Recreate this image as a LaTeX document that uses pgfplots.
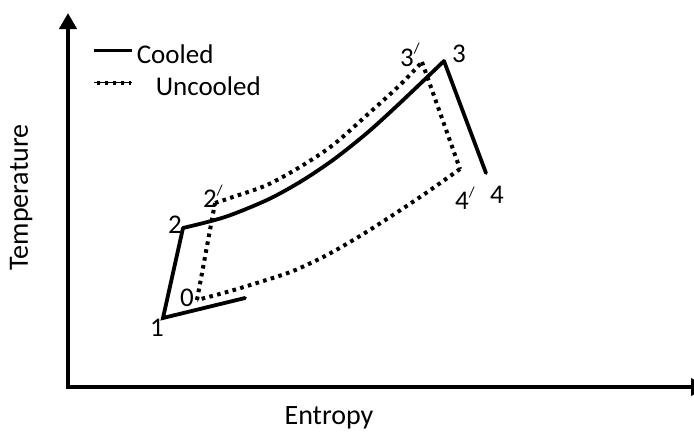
\documentclass[border=0pt]{standalone}
\usepackage{fontspec}
\setmainfont{Carlito}
\usepackage{pgfplots}
\pgfplotsset{compat=1.18}
\usetikzlibrary{arrows.meta}
\newcommand\lbl{\fontsize{27}{30}\selectfont}
\newcommand\pr{\raisebox{12pt}{\fontsize{15}{15}\selectfont /}}
\begin{document}
\begin{tikzpicture}
\useasboundingbox (-68pt,-45pt) rectangle (626pt,387pt);
\begin{axis}[
  scale only axis, width=639pt, height=374pt,
  xmin=0, xmax=639, ymin=0, ymax=374,
  enlargelimits=false,
  axis lines=left,
  xtick=\empty, ytick=\empty,
  axis line style={line width=4pt, line cap=rect},
  x axis line style={-{Triangle[length=16pt,width=17pt]}},
  y axis line style={-{Triangle[length=16pt,width=17pt]}},
  clip=false,
  legend cell align=left,
  legend style={draw=none, fill=none, inner sep=0pt, outer sep=0pt,
    at={(axis cs:24,349)}, anchor=north west,
    row sep=7pt, column sep=3pt,
    nodes={inner sep=0pt, text height=25pt, text depth=0pt, font=\lbl}},
  solidline/.style={black, line width=3.8pt, line join=miter, line cap=round},
  dotline/.style={black, line width=4pt, dash pattern=on 3.6pt off 4.4pt},
]
% legend
\addlegendimage{legend image code/.code={\path (0pt,0pt) -- (38pt,0pt); \draw[black, line width=3.8pt] (0pt,0pt) -- (38pt,0pt);}}
\addlegendentry{Cooled}
\addlegendimage{legend image code/.code={\path (0pt,0pt) -- (38pt,0pt); \draw[black, line width=4pt, dash pattern=on 3.6pt off 4.4pt] (3pt,0pt) -- (37pt,0pt);}}
\addlegendentry{\hspace*{19pt}Uncooled}

% Cooled cycle
\addplot[solidline, forget plot] coordinates {(418,214) (376,326)};
\addplot[solidline, smooth, forget plot] coordinates {
  (376,326) (332,284) (299,254) (265,227) (232,205) (199,187) (157,170) (115,159)};
\addplot[solidline, forget plot] coordinates {(115,159) (95,69) (177,89)};

% Uncooled cycle
\addplot[dotline, forget plot] coordinates {(129,87) (147,184)};
\addplot[dotline, smooth, forget plot] coordinates {
  (147,184) (165,190) (199,202) (232,220) (265,242) (299,272) (332,302) (354,325)};
\addplot[dotline, forget plot] coordinates {(354,325) (392,218)};
\addplot[dotline, smooth, forget plot] coordinates {
  (392,218) (358,194) (325,172) (292,151) (259,132) (225,116) (192,105) (159,95) (129,87)};

% point labels
\node[font=\lbl, inner sep=0pt] at (axis cs:89,59) {1};
\node[font=\lbl, inner sep=0pt] at (axis cs:107,162) {2};
\node[font=\lbl, inner sep=0pt] at (axis cs:119,89) {0};
\node[font=\lbl, inner sep=0pt] at (axis cs:391,333) {3};
\node[font=\lbl, inner sep=0pt] at (axis cs:429,192) {4};
\node[font=\lbl, inner sep=0pt, anchor=base west] at (axis cs:135,180) {2\pr};
\node[font=\lbl, inner sep=0pt, anchor=base west] at (axis cs:332,321) {3\pr};
\node[font=\lbl, inner sep=0pt, anchor=base west] at (axis cs:387,178) {4\pr};

% axis labels
\node[font=\fontsize{28}{30}\selectfont, inner sep=0pt, anchor=base] at (axis cs:261,-37) {Entropy};
\node[font=\fontsize{28}{30}\selectfont, inner sep=0pt, anchor=base, rotate=90] at (axis cs:-40,189.5) {Temperature};
\end{axis}
\end{tikzpicture}
\end{document}
